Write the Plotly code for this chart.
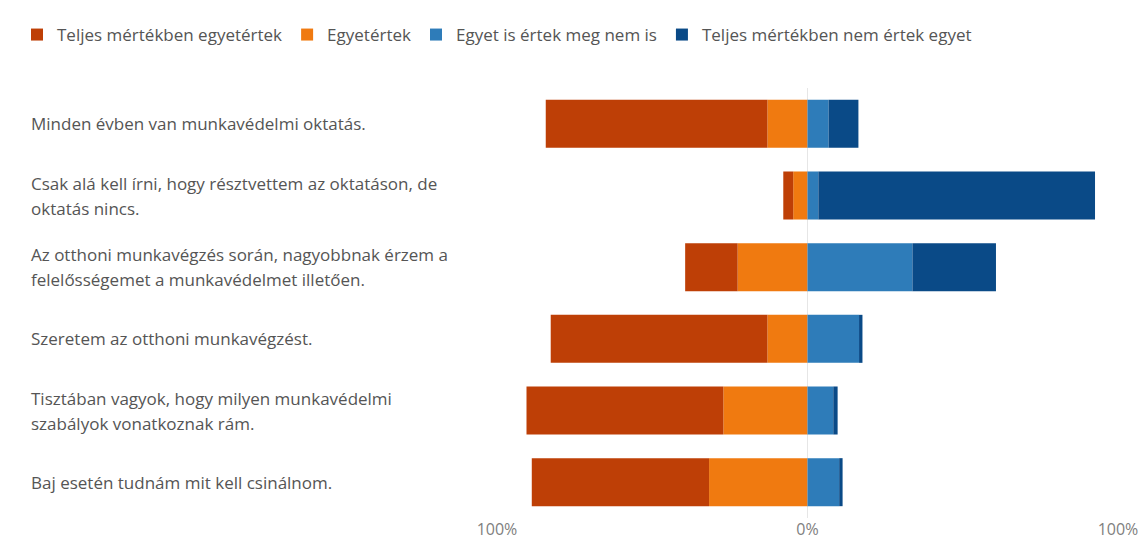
import plotly.graph_objects as go

# Survey statements (rows, top to bottom)
statements = [
    "Minden évben van munkavédelmi oktatás.",
    "Csak alá kell írni, hogy résztvettem az oktatáson, de<br>oktatás nincs.",
    "Az otthoni munkavégzés során, nagyobbnak érzem a<br>felelősségemet a munkavédelmet illetően.",
    "Szeretem az otthoni munkavégzést.",
    "Tisztában vagyok, hogy milyen munkavédelmi<br>szabályok vonatkoznak rám.",
    "Baj esetén tudnám mit kell csinálnom.",
]

# Answer shares in percent
teljes_egyet = [71.4, 3.2, 16.9, 69.8, 63.4, 57.1]
egyetert = [12.9, 4.6, 22.5, 12.9, 27.1, 31.7]
semleges = [6.8, 3.5, 33.8, 16.6, 8.3, 10.2]
teljes_nem = [9.6, 89.1, 26.9, 1.1, 1.4, 1.1]

series_names = [
    "Teljes mértékben egyetértek",
    "Egyetértek",
    "Egyet is értek meg nem is",
    "Teljes mértékben nem értek egyet",
]
colors = ["#BE3F06", "#F07A10", "#2E7CB9", "#0A4A87"]

tick_vals = [-100, 0, 100]
tick_text = ["100%", "0%", "100%"]

W, H = 1142, 539
L, R, T, B = 497, 24, 88, 21
plot_w = W - L - R
plot_h = H - T - B

fig = go.Figure()
# agreement goes to the left of zero (closest to zero first), the rest to the right
fig.add_bar(y=statements, x=[-v for v in egyetert], name=series_names[1],
            marker_color=colors[1], orientation="h", legendrank=2)
fig.add_bar(y=statements, x=[-v for v in teljes_egyet], name=series_names[0],
            marker_color=colors[0], orientation="h", legendrank=1)
fig.add_bar(y=statements, x=semleges, name=series_names[2],
            marker_color=colors[2], orientation="h", legendrank=3)
fig.add_bar(y=statements, x=teljes_nem, name=series_names[3],
            marker_color=colors[3], orientation="h", legendrank=4)

for tr in fig.data:
    tr.marker.line.width = 0
    tr.hoverinfo = "skip"

font_family = "Open Sans, Noto Sans, DejaVu Sans, sans-serif"
text_color = "#555555"
fsize = 17

# left-aligned row labels, one annotation per text line
label_x = (29 - L) / plot_w
line_gap = 25
for s in statements:
    lines = s.split("<br>")
    n = len(lines)
    for i, ln in enumerate(lines):
        offset = (i - (n - 1) / 2) * line_gap
        fig.add_annotation(
            x=label_x, xref="paper", xanchor="left",
            y=s, yref="y", yanchor="middle", yshift=-offset,
            text=ln, showarrow=False,
            font=dict(family=font_family, size=fsize, color=text_color),
        )

fig.update_layout(
    width=W, height=H,
    margin=dict(l=L, r=R, t=T, b=B, pad=0, autoexpand=False),
    barmode="relative",
    bargap=0.33,
    plot_bgcolor="white",
    paper_bgcolor="white",
    font=dict(family=font_family, size=fsize, color=text_color),
    showlegend=True,
    legend=dict(
        orientation="h",
        x=(17 - L) / plot_w, y=1 + (T - 35) / plot_h,
        xanchor="left", yanchor="middle",
        font=dict(family=font_family, size=fsize, color=text_color),
        traceorder="normal",
        itemclick=False,
    ),
    xaxis=dict(
        range=[-100, 100],
        tickvals=tick_vals, ticktext=tick_text,
        showgrid=True, gridcolor="#E6E6E6", gridwidth=1,
        zeroline=False, showline=False, automargin=False,
        ticks="", ticklabelstandoff=0,
        tickfont=dict(size=16, color="#808080"),
        fixedrange=True,
    ),
    yaxis=dict(
        autorange="reversed", automargin=False,
        showticklabels=False, showgrid=False, zeroline=False,
        ticks="", fixedrange=True,
    ),
)

fig.write_html("out.html", config={"displayModeBar": False})
